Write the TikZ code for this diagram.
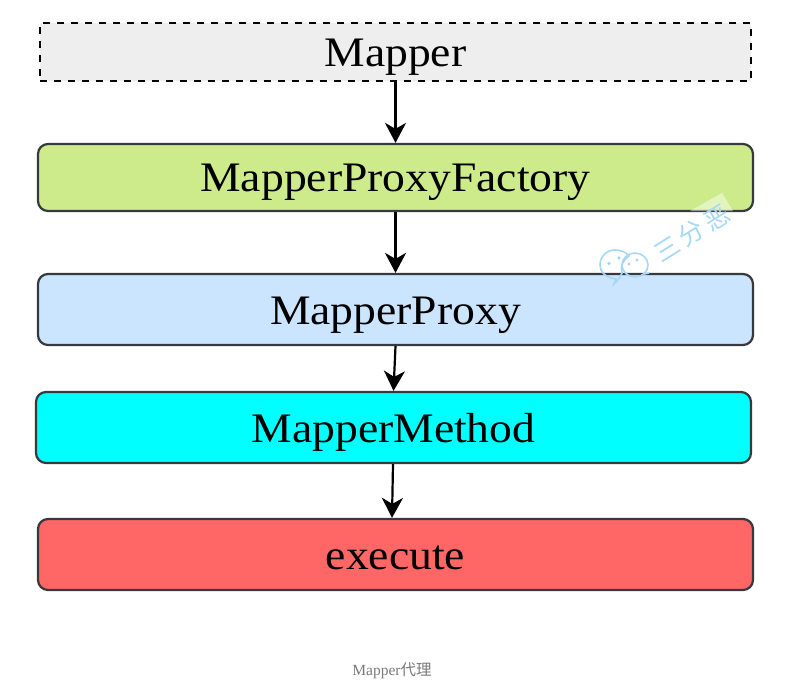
\documentclass[tikz,border=0pt]{standalone}
\usepackage{fontspec}
\setmainfont{Liberation Serif}
\newfontfamily\boxfont[FakeStretch=1.086]{Liberation Serif}
\newfontfamily\cjk{Noto Sans CJK SC}
\usetikzlibrary{arrows.meta}
\definecolor{edgegrey}{HTML}{36393D}
\definecolor{wm}{HTML}{A6D8F5}
\definecolor{dashfill}{HTML}{EEEEEE}
\definecolor{greenfill}{HTML}{CDEB8B}
\definecolor{bluefill}{HTML}{CCE5FF}
\definecolor{cyanfill}{HTML}{00FFFF}
\definecolor{redfill}{HTML}{FF6666}
\newcommand{\boxlabel}[1]{\raisebox{-14.5pt}[0pt][0pt]{#1}}
\tikzset{
  x=1pt,y=-1pt,
  box/.style={draw=edgegrey,line width=2.2pt,rounded corners=10pt,minimum width=715pt,inner sep=0pt,font=\boxfont\fontsize{42}{42}\selectfont,text=black},
  dashbox/.style={draw=black,line width=2.2pt,dash pattern=on 7pt off 7pt,minimum width=711pt,inner sep=0pt,font=\boxfont\fontsize{42}{42}\selectfont,text=black},
  flow/.style={draw=black,line width=2.2pt,-{Stealth[length=20pt,width=21pt,inset=6pt]}},
  captiontext/.style={font=\fontsize{15.5}{16}\selectfont,text=gray!95!black},
  wmglyph/.style={rotate=32,text=wm,font=\cjk\fontsize{25}{25}\selectfont,inner sep=0pt}
}
\begin{document}
\begin{tikzpicture}
\useasboundingbox (0,0) rectangle (797,687);
\node[dashbox,fill=dashfill,minimum height=58pt] (mapper) at (395.5,52) {\boxlabel{Mapper}};
\node[box,fill=greenfill,minimum height=67pt] (factory) at (395.5,177.5) {\boxlabel{MapperProxyFactory}};
\node[box,fill=bluefill,minimum height=71pt] (proxy) at (395.5,309.5) {\boxlabel{MapperProxy}};
\node[box,fill=cyanfill,minimum height=71pt] (method) at (393.5,427.5) {\boxlabel{MapperMethod}};
\node[box,fill=redfill,minimum height=71pt] (exec) at (395.5,554.5) {\boxlabel{execute}};
\draw[flow] (mapper.south) -- (factory.north);
\draw[flow] (factory.south) -- (proxy.north);
\draw[flow] (proxy.south) -- (method.north);
\draw[flow] ([xshift=-0.5pt]method.south) -- ([xshift=-3.5pt]exec.north);
\node[captiontext] (caption) at (392,671) {Mapper{\cjk 代理}};
% watermark
\fill[white,opacity=.45] (722,193) -- (733,211) -- (690,211) -- cycle;
\node[wmglyph] (wmsan) at (667,249) {三};
\node[wmglyph] (wmfen) at (691,233) {分};
\node[wmglyph] (wme) at (717,218) {恶};
\begin{scope}[draw=wm,line width=1.6pt]
\draw (614,284) -- (616,279) .. controls (606,278) and (600,272) .. (600,265) .. controls (600,256) and (607,250) .. (615,250) .. controls (621,250) and (626,252) .. (629,256) .. controls (623,260) and (620,266) .. (622,273) .. controls (620,277) and (618,281) .. (614,284) -- cycle;
\draw (635,265) ellipse [x radius=13pt,y radius=12pt];
\draw (644,274) -- (649,273);
\end{scope}
\fill[wm] (609,263.5) circle (1.9pt) (619,258) circle (1.9pt) (629,264) circle (1.7pt) (637,260) circle (1.7pt);
\end{tikzpicture}
\end{document}
